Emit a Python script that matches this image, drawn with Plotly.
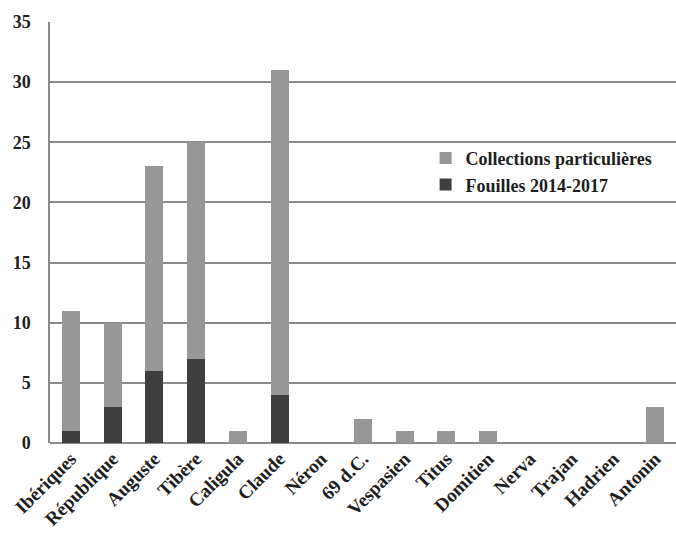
import plotly.graph_objects as go

categories = ["Ibériques", "République", "Auguste", "Tibère", "Caligula", "Claude",
              "Néron", "69 d.C.", "Vespasien", "Titus", "Domitien", "Nerva",
              "Trajan", "Hadrien", "Antonin"]
fouilles = [1, 3, 6, 7, 0, 4, 0, 0, 0, 0, 0, 0, 0, 0, 0]
collections = [10, 7, 17, 18, 1, 27, 0, 2, 1, 1, 1, 0, 0, 0, 3]
y_ticks = [0, 5, 10, 15, 20, 25, 30, 35]

FONT = "Liberation Serif"
TXT = "#1e1e1e"

fig = go.Figure()
fig.add_trace(go.Bar(x=categories, y=fouilles, name="Fouilles 2014-2017",
                     marker=dict(color="#3f3f3f", line=dict(width=0))))
fig.add_trace(go.Bar(x=categories, y=collections, name="Collections particulières",
                     marker=dict(color="#979797", line=dict(width=0))))

fig.update_layout(
    width=676, height=535,
    barmode="stack", bargap=0.57,
    plot_bgcolor="white", paper_bgcolor="white",
    margin=dict(l=50, r=0, t=22, b=92),
    font=dict(family=FONT, size=16, color=TXT),
    legend=dict(x=0.6, y=0.72, xanchor="left", yanchor="top",
                traceorder="reversed", bgcolor="rgba(0,0,0,0)",
                font=dict(family=FONT, size=18, color=TXT, weight="bold"),
                itemwidth=30, tracegroupgap=0),
    showlegend=True,
)
fig.update_xaxes(tickangle=-45, showgrid=False, showline=False, ticks="",
                 tickfont=dict(family=FONT, size=19, color=TXT, weight="bold"))
fig.update_yaxes(range=[0, 35], tickvals=y_ticks, showgrid=True,
                 gridcolor="#8a8a8a", gridwidth=1.5, zeroline=True,
                 zerolinecolor="#8a8a8a", zerolinewidth=1.5,
                 showline=True, linecolor="#8a8a8a", linewidth=1.5,
                 ticks="", ticklabelstandoff=14,
                 tickfont=dict(family=FONT, size=18, color=TXT, weight="bold"))

fig.write_html("out.html")
